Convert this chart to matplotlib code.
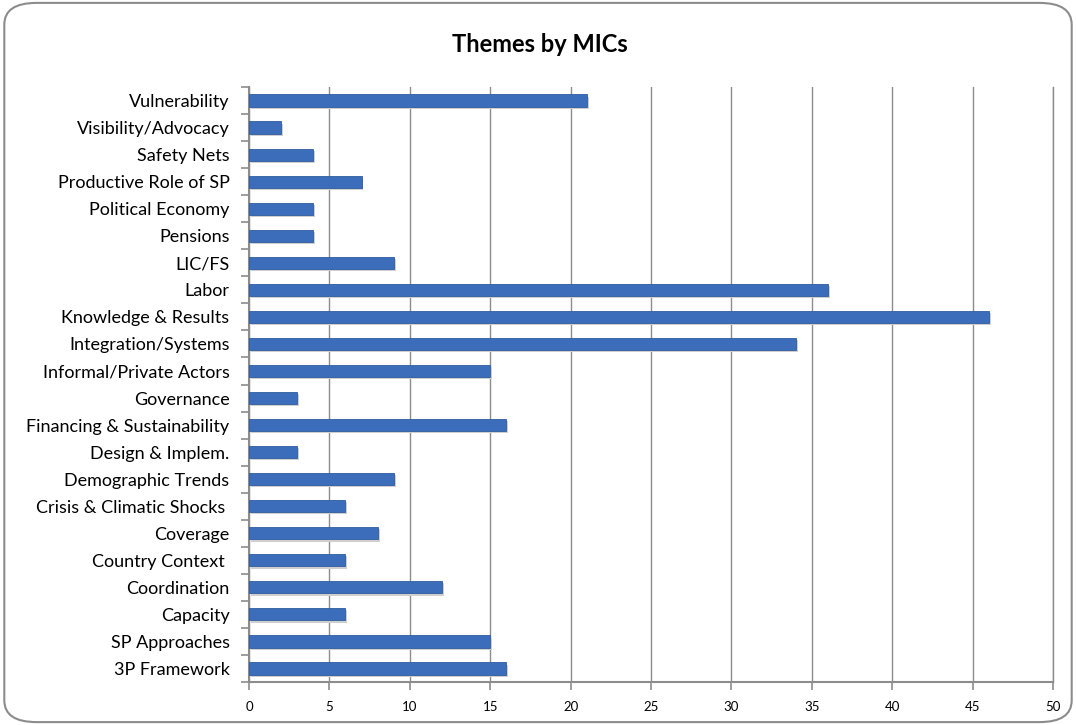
import numpy as np
import matplotlib
matplotlib.use("Agg")
from matplotlib import pyplot as plt
from matplotlib.patches import FancyBboxPatch

plt.rcParams['font.family'] = ['Lato', 'DejaVu Sans']

# categories listed bottom to top
themes = ["3P Framework", "SP Approaches", "Capacity", "Coordination",
          "Country Context ", "Coverage", "Crisis & Climatic Shocks ",
          "Demographic Trends", "Design & Implem.", "Financing & Sustainability",
          "Governance", "Informal/Private Actors", "Integration/Systems",
          "Knowledge & Results", "Labor", "LIC/FS", "Pensions",
          "Political Economy", "Productive Role of SP", "Safety Nets",
          "Visibility/Advocacy", "Vulnerability"]
counts = [16, 15, 6, 12, 6, 8, 6, 9, 3, 16, 3, 15, 34, 46, 36, 9, 4, 4, 7, 4, 2, 21]
xticks = list(range(0, 55, 5))

fig = plt.figure(figsize=(10.76, 7.25), dpi=100)
ax = fig.add_axes([0.2314, 0.0593, 0.7472, 0.8207])

y = np.arange(len(themes))
# soft shadow behind bars
ax.barh(y - 0.08, counts, height=0.45, left=0.12, color="#cfcfcf", zorder=2)
ax.barh(y, counts, height=0.45, color="#3b6dbb", edgecolor="#2f5c9f",
        linewidth=0.6, zorder=3)

ax.set_xlim(0, 50)
ax.set_ylim(-0.5, len(themes) - 0.5)
ax.set_xticks(xticks)
ax.set_xticklabels([str(v) for v in xticks], fontsize=9.5)
ax.set_yticks(y)
ax.set_yticklabels(themes, fontsize=13)
ax.tick_params(axis='y', length=0, pad=14)
ax.set_yticks(np.arange(-0.5, len(themes), 1), minor=True)
ax.tick_params(axis='y', which='minor', length=6, color="#8c8c8c", width=1.2)
ax.tick_params(axis='x', length=6, color="#8c8c8c", width=1.2, pad=8)

ax.grid(axis='x', color="#8c8c8c", linewidth=1.0, zorder=0)
ax.set_axisbelow(True)
ax.spines["top"].set_visible(False)
ax.spines["right"].set_color("#8c8c8c")
ax.spines["right"].set_linewidth(1.0)
for side in ["left", "bottom"]:
    ax.spines[side].set_color("#8c8c8c")
    ax.spines[side].set_linewidth(1.5)

fig.text(0.502, 0.938, "Themes by MICs", ha="center", va="center",
         fontsize=17, fontweight="bold")

border = FancyBboxPatch((0.004, 0.004), 0.992, 0.992,
                        boxstyle="round,pad=0,rounding_size=0.03",
                        transform=fig.transFigure, facecolor="none",
                        edgecolor="#8c8c8c", linewidth=1.5)
fig.patches.append(border)

fig.savefig("out.png", dpi=100)
